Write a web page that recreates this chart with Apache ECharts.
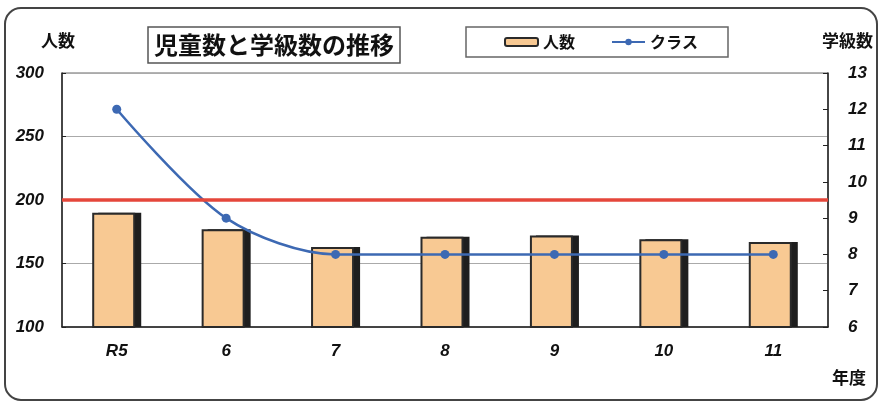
<!DOCTYPE html>
<html><head><meta charset="utf-8">
<script src="https://cdn.jsdelivr.net/npm/echarts@6/dist/echarts.min.js"></script>
<style>html,body{margin:0;padding:0;background:#fff}#c{width:882px;height:408px}</style>
</head><body><div id="c"></div>
<script>
const categories = ['R5', '6', '7', '8', '9', '10', '11'];
const pupils = [190, 177, 163, 171, 172, 169, 167];
const classes = [12, 9, 8, 8, 8, 8, 8];
const referenceLine = 200;
const leftTicks = { min: 100, max: 300, interval: 50 };
const rightTicks = { min: 6, max: 13, interval: 1 };

const numFont = { fontFamily: 'Liberation Sans', fontStyle: 'italic', fontWeight: 'bold', fontSize: 17, color: '#111' };
const jp = 'Noto Sans CJK JP';
const chart = echarts.init(document.getElementById('c'), null, { renderer: 'canvas' });
chart.setOption({
  animation: false,
  backgroundColor: '#fff',
  title: {
    text: '児童数と学級数の推移', left: 148, top: 27,
    padding: [3, 6, 3, 6], borderColor: '#555', borderWidth: 1.5,
    textStyle: { fontFamily: jp, fontSize: 24, fontWeight: 'bold', color: '#111', lineHeight: 30 }
  },
  legend: {
    left: 466, top: 27, padding: [7, 30, 7, 38], itemGap: 36,
    borderColor: '#666', borderWidth: 1.5,
    itemWidth: 33, itemHeight: 8,
    textStyle: { fontFamily: jp, fontSize: 16, fontWeight: 'bold', color: '#111' },
    data: ['人数', 'クラス']
  },
  grid: { left: 62, right: 54, top: 73, bottom: 81, show: true, borderColor: '#666', borderWidth: 1 },
  xAxis: {
    type: 'category', data: categories,
    axisLine: { lineStyle: { color: '#222', width: 1.5 } },
    axisTick: { inside: true, length: 4, lineStyle: { color: '#222' } },
    axisLabel: Object.assign({ margin: 16 }, numFont)
  },
  yAxis: [
    { type: 'value', min: leftTicks.min, max: leftTicks.max, interval: leftTicks.interval,
      axisLine: { show: true, lineStyle: { color: '#222', width: 1.5 } },
      axisTick: { show: true, inside: true, length: 4 },
      splitLine: { lineStyle: { color: '#aaa', width: 1 } },
      axisLabel: Object.assign({ margin: 18 }, numFont) },
    { type: 'value', min: rightTicks.min, max: rightTicks.max, interval: rightTicks.interval,
      axisLine: { show: true, lineStyle: { color: '#222', width: 1.5 } },
      axisTick: { show: true, inside: true, length: 5, lineStyle: { color: '#222' } },
      splitLine: { show: false },
      axisLabel: Object.assign({ margin: 20 }, numFont) }
  ],
  series: [
    { name: '人数', type: 'bar', data: pupils, barWidth: 43, barGap: '-86%', yAxisIndex: 0, z: 3,
      itemStyle: { color: '#F8C993', borderColor: '#2a2a2a', borderWidth: 2 },
      markLine: { silent: true, symbol: 'none', label: { show: false },
        lineStyle: { color: '#E5473B', width: 3.5, type: 'solid' },
        data: [{ yAxis: referenceLine }] } },
    { name: '影', type: 'bar', data: pupils, barWidth: 43, yAxisIndex: 0, z: 2, silent: true,
      itemStyle: { color: '#1e1e1e' } },
    { name: 'クラス', type: 'line', data: classes, yAxisIndex: 1, smooth: 0.3, z: 4,
      symbol: 'circle', symbolSize: 9,
      lineStyle: { color: '#3D69B3', width: 2.5 }, itemStyle: { color: '#3D69B3' } }
  ],
  graphic: [
    { type: 'rect', shape: { x: 5, y: 8, width: 872, height: 392, r: 16 },
      style: { fill: 'none', stroke: '#444', lineWidth: 2 } },
    { type: 'text', left: 41, top: 32, style: { text: '人数', font: 'bold 17px "Noto Sans CJK JP"', fill: '#111' } },
    { type: 'text', left: 822, top: 32, style: { text: '学級数', font: 'bold 17px "Noto Sans CJK JP"', fill: '#111' } },
    { type: 'text', left: 832, top: 369, style: { text: '年度', font: 'bold 17px "Noto Sans CJK JP"', fill: '#111' } }
  ]
});
</script></body></html>
